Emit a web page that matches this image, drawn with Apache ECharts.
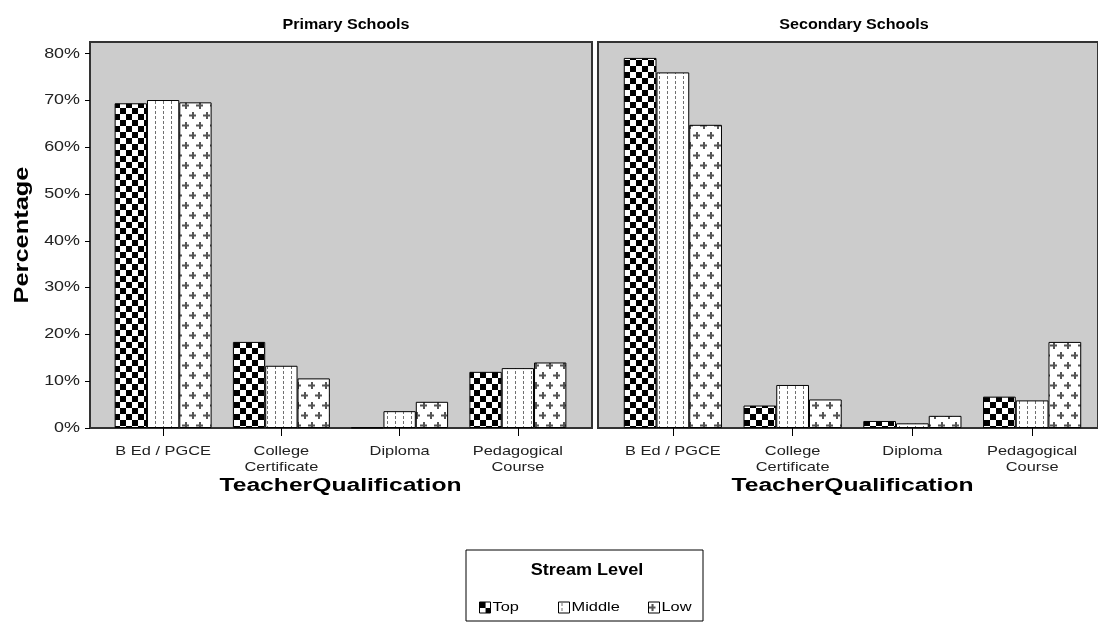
<!DOCTYPE html>
<html>
<head>
<meta charset="utf-8">
<script src="https://cdn.jsdelivr.net/npm/echarts@6/dist/echarts.min.js"></script>
<style>
html,body{margin:0;padding:0;background:#fff;}
#chart{width:1098px;height:624px;}
</style>
</head>
<body>
<div id="chart"></div>
<script>
const categories = ['B Ed / PGCE', 'College\nCertificate', 'Diploma', 'Pedagogical\nCourse'];
const streams = ['Top', 'Middle', 'Low'];
const panelTitles = ['Primary Schools', 'Secondary Schools'];
const yTicks = [0, 10, 20, 30, 40, 50, 60, 70, 80];
const primaryTop = [69.4, 18.4, 0.1, 12.0];
const primaryMiddle = [70.1, 13.3, 3.6, 12.8];
const primaryLow = [69.6, 10.6, 5.6, 14.0];
const secondaryTop = [79.1, 4.8, 1.5, 6.7];
const secondaryMiddle = [76.0, 9.2, 1.0, 5.9];
const secondaryLow = [64.8, 6.1, 2.6, 18.4];

const FONT = "'Liberation Sans', Arial, sans-serif";
const Y_MAX = 82.5;

// The reference's lettering is noticeably wider than Arial; stretch glyphs horizontally around their anchor.
const STRETCH = [
  [/bold 20px/, 1.27], [/bold 18px/, 1.37], [/bold 16px/, 1.13], [/bold 14px/, 1.15],
  [/(^|\s)14px/, 1.28], [/(^|\s)13px/, 1.26]
];
(function () {
  const proto = CanvasRenderingContext2D.prototype;
  const orig = proto.fillText;
  proto.fillText = function (t, x, y, w) {
    let f = 1;
    for (const [re, v] of STRETCH) { if (re.test(this.font)) { f = v; break; } }
    if (f === 1) return w === undefined ? orig.call(this, t, x, y) : orig.call(this, t, x, y, w);
    this.save();
    this.translate(x, y);
    this.scale(f, 1);
    const r = w === undefined ? orig.call(this, t, 0, 0) : orig.call(this, t, 0, 0, w / f);
    this.restore();
    return r;
  };
})();

function makePattern(kind) {
  const c = document.createElement('canvas');
  const ctx = c.getContext('2d');
  if (kind === 'Top') {
    c.width = 12; c.height = 12;
    ctx.fillStyle = '#fff'; ctx.fillRect(0, 0, 12, 12);
    ctx.fillStyle = '#000';
    ctx.fillRect(0, 0, 6, 6); ctx.fillRect(6, 6, 6, 6);
  } else if (kind === 'Middle') {
    c.width = 8; c.height = 5;
    ctx.fillStyle = '#fff'; ctx.fillRect(0, 0, 8, 5);
    ctx.fillStyle = '#707070';
    ctx.fillRect(3, 1, 1, 3);
  } else {
    c.width = 14; c.height = 20;
    ctx.fillStyle = '#fff'; ctx.fillRect(0, 0, 14, 20);
    ctx.fillStyle = '#555';
    ctx.fillRect(3, 2, 2, 7); ctx.fillRect(0, 4.5, 7, 2);
    ctx.fillRect(10, 12, 2, 7); ctx.fillRect(7, 14.5, 7, 2);
  }
  return { image: c, repeat: 'repeat' };
}
const patterns = {};
streams.forEach(s => patterns[s] = makePattern(s));

const chart = echarts.init(document.getElementById('chart'), null, { renderer: 'canvas' });

const bgGrid = (left) => ({ left: left, top: 42, width: 502, height: 386, show: true, backgroundColor: '#cccccc', borderColor: '#333', borderWidth: 2, containLabel: false });
const barGrid = (left, width) => ({ left: left, top: 42, width: width, height: 386, containLabel: false });

const catAxis = (gridIndex) => ({
  type: 'category', gridIndex: gridIndex, data: categories,
  axisLine: { show: false },
  axisTick: { show: true, alignWithLabel: true, length: 8, lineStyle: { color: '#000', width: 1 } },
  axisLabel: { fontFamily: FONT, fontSize: 13, color: '#222', margin: 15, lineHeight: 16, interval: 0 },
  name: 'TeacherQualification', nameLocation: 'middle', nameGap: 49, nameMoveOverlap: false,
  nameTextStyle: { fontFamily: FONT, fontSize: 18, fontWeight: 'bold', color: '#000' }
});
const hiddenVal = (gridIndex) => ({ type: 'value', gridIndex: gridIndex, show: false, min: 0, max: Y_MAX, splitLine: { show: false } });

const dataSets = [
  [primaryTop, primaryMiddle, primaryLow],
  [secondaryTop, secondaryMiddle, secondaryLow]
];
const series = [];
dataSets.forEach((set, p) => {
  set.forEach((vals, i) => {
    series.push({
      type: 'bar', name: streams[i], xAxisIndex: p * 2 + 1, yAxisIndex: p * 2 + 1,
      data: vals, barGap: '0%', barCategoryGap: '18%',
      itemStyle: { color: patterns[streams[i]], borderColor: '#000', borderWidth: 1 },
      emphasis: { disabled: true }, animation: false
    });
  });
});

const legendLefts = [479, 558, 648];
const legends = streams.map((s, i) => ({
  data: [s], left: legendLefts[i], top: 601, orient: 'horizontal',
  itemWidth: 11, itemHeight: 11, icon: 'rect', selectedMode: false, padding: 0, itemGap: 3,
  itemStyle: { borderColor: '#000', borderWidth: 1 },
  textStyle: { fontFamily: FONT, fontSize: 13, color: '#000', padding: [0, 0, 0, -3] }
}));

chart.setOption({
  animation: false,
  backgroundColor: '#fff',
  title: [
    { text: panelTitles[0], left: 341, top: 13, textAlign: 'center', textStyle: { fontFamily: FONT, fontSize: 14, fontWeight: 'bold', color: '#000' } },
    { text: panelTitles[1], left: 849, top: 13, textAlign: 'center', textStyle: { fontFamily: FONT, fontSize: 14, fontWeight: 'bold', color: '#000' } }
  ],
  grid: [bgGrid(90), barGrid(104, 473), bgGrid(598), barGrid(613, 479)],
  xAxis: [
    { type: 'value', gridIndex: 0, show: false },
    catAxis(1),
    { type: 'value', gridIndex: 2, show: false },
    catAxis(3)
  ],
  yAxis: [
    {
      type: 'value', gridIndex: 0, min: 0, max: Y_MAX,
      axisLine: { show: false },
      axisTick: { show: true, length: 5, customValues: yTicks, lineStyle: { color: '#000' } },
      axisLabel: { customValues: yTicks, formatter: '{value}%', fontFamily: FONT, fontSize: 14, color: '#222', margin: 10 },
      splitLine: { show: false },
      name: 'Percentage', nameLocation: 'middle', nameGap: 58, nameMoveOverlap: false,
      nameTextStyle: { fontFamily: FONT, fontSize: 20, fontWeight: 'bold', color: '#000' }
    },
    hiddenVal(1), hiddenVal(2), hiddenVal(3)
  ],
  legend: legends,
  graphic: [
    { type: 'rect', shape: { x: 466, y: 550, width: 237, height: 71 }, style: { fill: '#fff', stroke: '#000', lineWidth: 1 }, z: -1, silent: true },
    { type: 'text', x: 587, y: 571, style: { text: 'Stream Level', font: "bold 16px 'Liberation Sans', Arial, sans-serif", fill: '#000', align: 'center', verticalAlign: 'middle' }, silent: true }
  ],
  series: series
});
</script>
</body>
</html>
